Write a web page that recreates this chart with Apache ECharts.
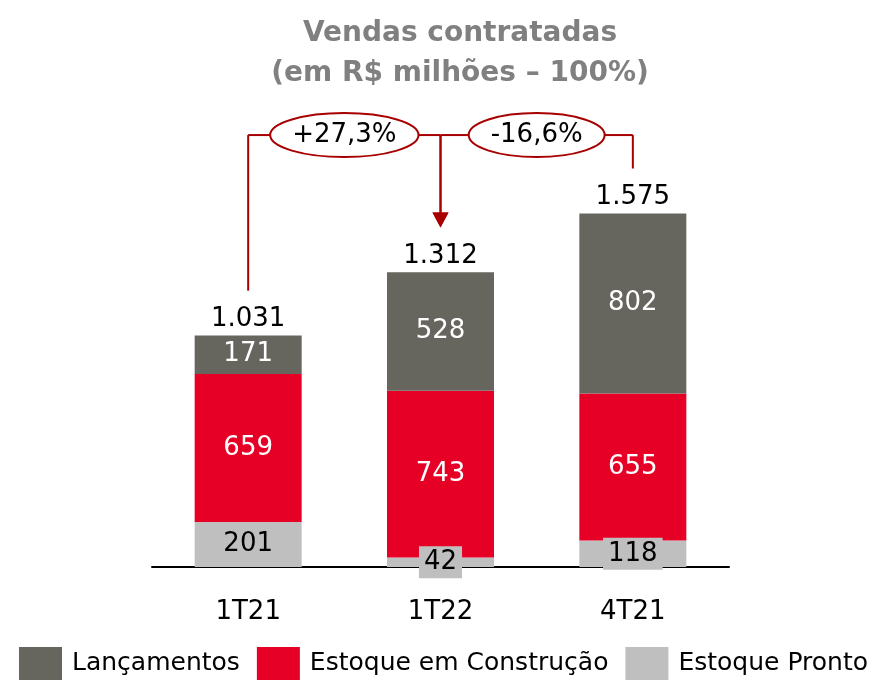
<!DOCTYPE html>
<html>
<head>
<meta charset="utf-8">
<script src="https://cdn.jsdelivr.net/npm/echarts@6/dist/echarts.min.js"></script>
<style>html,body{margin:0;padding:0;background:#fff}#c{width:887px;height:682px}</style>
</head>
<body>
<div id="c"></div>
<script>
const categories = ['1T21', '1T22', '4T21'];
const lancamentos = [171, 528, 802];
const construcao = [659, 743, 655];
const pronto = [201, 42, 118];
const totals = [1031, 1312, 1575];
const comparisons = [[0, 1], [2, 1]];
const compLabels = ['+27,3%', '-16,6%'];

const FONT = 'DejaVu Sans';
const RED_LINE = '#a80000';
const GAP = 200;
const LEVEL = 1924;

function fmt(v) { return String(v).replace(/\B(?=(\d{3})+(?!\d))/g, '.'); }

const mctx = document.createElement('canvas').getContext('2d');
mctx.font = '26px "' + FONT + '"';

const chart = echarts.init(document.getElementById('c'), null, { renderer: 'canvas' });

chart.setOption({
  animation: false,
  title: {
    text: 'Vendas contratadas\n(em R$ milhões – 100%)',
    left: 460, top: 14, padding: 0,
    textAlign: 'center',
    textStyle: { fontFamily: FONT, fontSize: 28, fontWeight: 'bold', color: '#808080', lineHeight: 40 }
  },
  legend: {
    data: ['Lançamentos', 'Estoque em Construção', 'Estoque Pronto'],
    bottom: 2, left: 'center', padding: 0,
    itemWidth: 43, itemHeight: 33, itemGap: 17,
    icon: 'rect',
    textStyle: { fontFamily: FONT, fontSize: 25, color: '#000', padding: [0, 0, 0, 5] }
  },
  grid: { left: 152, right: 158, top: 118, bottom: 115, containLabel: false },
  xAxis: {
    type: 'category', data: categories,
    axisLine: { lineStyle: { color: '#000', width: 2 } },
    axisTick: { show: false },
    axisLabel: { fontFamily: FONT, fontSize: 26, color: '#000', margin: 32 }
  },
  yAxis: { type: 'value', min: 0, max: 2000, show: false, splitLine: { show: false } },
  series: [
    {
      name: 'Estoque Pronto', type: 'bar', stack: 'a', data: pronto, barWidth: 107,
      itemStyle: { color: '#bfbfbf' },
      label: { show: true, position: 'inside', fontFamily: FONT, fontSize: 26, color: '#000',
        backgroundColor: '#bfbfbf', padding: [4, 5, 2, 5], formatter: p => fmt(p.value) }
    },
    {
      name: 'Estoque em Construção', type: 'bar', stack: 'a', data: construcao, barWidth: 107,
      itemStyle: { color: '#e60026' },
      label: { show: true, position: 'inside', fontFamily: FONT, fontSize: 26, color: '#fff', formatter: p => fmt(p.value) }
    },
    {
      name: 'Lançamentos', type: 'bar', stack: 'a', data: lancamentos, barWidth: 107,
      itemStyle: { color: '#66665e' },
      label: { show: true, position: 'inside', fontFamily: FONT, fontSize: 26, color: '#fff', formatter: p => fmt(p.value) }
    },
    {
      name: 'Total', type: 'bar', data: totals, barWidth: 107, barGap: '-100%',
      itemStyle: { color: 'rgba(0,0,0,0)' }, silent: true,
      label: { show: true, position: 'top', distance: 3, fontFamily: FONT, fontSize: 26, color: '#000', formatter: p => fmt(p.value) }
    },
    {
      name: 'Comparação', type: 'custom', data: comparisons, z: 10, silent: true,
      renderItem: function (params, api) {
        const from = api.value(0), to = api.value(1);
        const text = compLabels[params.dataIndex];
        const p0 = api.coord([from, totals[from] + GAP]);
        const xf = p0[0];
        const level = api.coord([from, LEVEL])[1];
        const xt = api.coord([to, 0])[0];
        const tip = api.coord([to, totals[to] + GAP])[1];
        const mid = (xf + xt) / 2;
        const tw = mctx.measureText(text).width;
        const rx = tw / 2 + 22, ry = 22;
        const dir = xt > xf ? 1 : -1;
        const ls = { stroke: RED_LINE, lineWidth: 2, fill: null };
        return {
          type: 'group',
          children: [
            { type: 'line', shape: { x1: xf, y1: p0[1], x2: xf, y2: level }, style: ls },
            { type: 'line', shape: { x1: xf, y1: level, x2: mid - dir * rx, y2: level }, style: ls },
            { type: 'line', shape: { x1: mid + dir * rx, y1: level, x2: xt, y2: level }, style: ls },
            { type: 'line', shape: { x1: xt, y1: level, x2: xt, y2: tip - 14 }, style: ls },
            { type: 'polygon', shape: { points: [[xt - 8, tip - 15], [xt + 8, tip - 15], [xt, tip]] }, style: { fill: RED_LINE } },
            { type: 'ellipse', shape: { cx: mid, cy: level, rx: rx, ry: ry }, style: { fill: '#fff', stroke: RED_LINE, lineWidth: 2 } },
            { type: 'text', x: mid, y: level, style: { text: text, fontFamily: FONT, fontSize: 26, fill: '#000', align: 'center', verticalAlign: 'middle' } }
          ]
        };
      }
    }
  ]
});
</script>
</body>
</html>
